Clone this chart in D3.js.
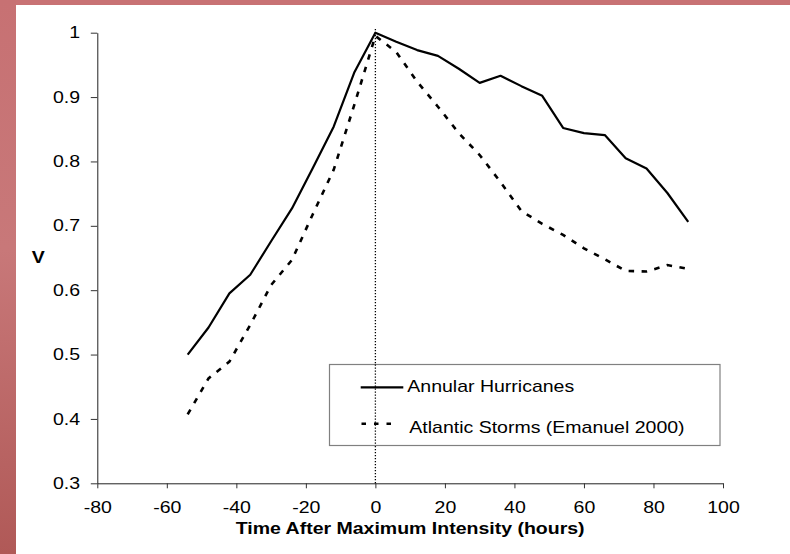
<!DOCTYPE html>
<html>
<head>
<meta charset="utf-8">
<script src="https://cdn.jsdelivr.net/npm/d3@7"></script>
<style>
  html, body { margin: 0; padding: 0; background: #fff; }
  svg { display: block; }
  text { font-family: "Liberation Sans", Arial, sans-serif; fill: #000; }
</style>
</head>
<body>
<svg id="chart" width="790" height="554"></svg>
<script>
// Hours relative to the time of maximum intensity
const hours = [-54, -48, -42, -36, -30, -24, -18, -12, -6, 0, 6, 12, 18, 24, 30, 36, 42, 48, 54, 60, 66, 72, 78, 84, 90];
// Normalised intensity V for annular hurricanes
const annular = [0.500, 0.542, 0.595, 0.624, 0.676, 0.727, 0.790, 0.854, 0.939, 1.000, 0.986, 0.973, 0.964, 0.944, 0.922, 0.933, 0.917, 0.902, 0.852, 0.844, 0.841, 0.805, 0.789, 0.751, 0.706];
// Normalised intensity V for Atlantic storms (Emanuel 2000)
const atlantic = [0.407, 0.463, 0.489, 0.546, 0.608, 0.647, 0.718, 0.787, 0.889, 0.995, 0.970, 0.924, 0.885, 0.844, 0.810, 0.768, 0.723, 0.703, 0.686, 0.665, 0.648, 0.630, 0.629, 0.639, 0.633];

const xTicks = [-80, -60, -40, -20, 0, 20, 40, 60, 80, 100];
const xTickLabels = ["-80", "-60", "-40", "-20", "0", "20", "40", "60", "80", "100"];
const yTicks = [0.3, 0.4, 0.5, 0.6, 0.7, 0.8, 0.9, 1];
const yTickLabels = ["0.3", "0.4", "0.5", "0.6", "0.7", "0.8", "0.9", "1"];

const seriesNames = ["Annular Hurricanes", "Atlantic Storms (Emanuel 2000)"];
const xTitle = "Time After Maximum Intensity (hours)";
const yTitle = "V";

const W = 790, H = 554;
const stretch = 1.22;   // wide lettering of the figure
const svg = d3.select("#chart");

// slide frame: gradient strip on the left, band along the top
const defs = svg.append("defs");
const grad = defs.append("linearGradient").attr("id", "frameGrad")
  .attr("x1", 0).attr("y1", 0).attr("x2", 0).attr("y2", 1);
grad.append("stop").attr("offset", "0%").attr("stop-color", "#c77173");
grad.append("stop").attr("offset", "45%").attr("stop-color", "#c87879");
grad.append("stop").attr("offset", "100%").attr("stop-color", "#b05957");
svg.append("rect").attr("x", 0).attr("y", 0).attr("width", W).attr("height", H).attr("fill", "#fff");
svg.append("rect").attr("x", 0).attr("y", 0).attr("width", W).attr("height", 5).attr("fill", "#c87274");
svg.append("rect").attr("x", 0).attr("y", 0).attr("width", 16).attr("height", H).attr("fill", "url(#frameGrad)");

const x = d3.scaleLinear().domain([-80, 100]).range([97.3, 723]);
const y = d3.scaleLinear().domain([0.3, 1]).range([483.3, 32.7]);

// x axis
const gx = svg.append("g").attr("transform", `translate(0,${y(0.3)})`)
  .call(d3.axisBottom(x).tickValues(xTicks).tickFormat((d, i) => xTickLabels[i]).tickSize(5).tickSizeOuter(0));
gx.select(".domain").attr("stroke", "#222");
gx.selectAll(".tick line").attr("stroke", "#333");
gx.selectAll(".tick text")
  .attr("y", 30).attr("dy", 0)
  .attr("font-size", 16)
  .attr("font-family", "Liberation Sans, Arial, sans-serif")
  .attr("transform", `scale(${stretch},1)`);

// y axis
const gy = svg.append("g").attr("transform", `translate(${x(-80)},0)`)
  .call(d3.axisLeft(y).tickValues(yTicks).tickFormat((d, i) => yTickLabels[i]).tickSize(6.5).tickSizeOuter(0));
gy.select(".domain").attr("stroke", "#222");
gy.selectAll(".tick line").attr("stroke", "#333");
gy.selectAll(".tick text")
  .attr("x", -17.3 / stretch)
  .attr("font-size", 16)
  .attr("font-family", "Liberation Sans, Arial, sans-serif")
  .attr("transform", `scale(${stretch},1)`);

// axis titles
svg.append("text")
  .attr("transform", `translate(${(x(-80) + x(100)) / 2},534) scale(${stretch},1)`)
  .attr("text-anchor", "middle").attr("font-weight", "bold").attr("font-size", 16)
  .text(xTitle);
svg.append("text")
  .attr("transform", `translate(38.3,263.3) scale(${stretch},1)`)
  .attr("text-anchor", "middle").attr("font-weight", "bold").attr("font-size", 16)
  .text(yTitle);

// marker for the time of maximum intensity
svg.append("line")
  .attr("x1", x(0)).attr("x2", x(0)).attr("y1", 29).attr("y2", y(0.3))
  .attr("stroke", "#000").attr("stroke-width", 1.3).attr("stroke-dasharray", "1.2,1.8");

const line = d3.line().x(d => x(d[0])).y(d => y(d[1]));

svg.append("path")
  .datum(hours.map((h, i) => [h, atlantic[i]]))
  .attr("d", line).attr("fill", "none")
  .attr("stroke", "#000").attr("stroke-width", 2.6).attr("stroke-dasharray", "5.5,7.5");

svg.append("path")
  .datum(hours.map((h, i) => [h, annular[i]]))
  .attr("d", line).attr("fill", "none")
  .attr("stroke", "#000").attr("stroke-width", 2.2).attr("stroke-linejoin", "round");

// legend
const lg = svg.append("g");
lg.append("rect").attr("x", 329.5).attr("y", 364.5).attr("width", 390.5).attr("height", 81)
  .attr("fill", "#fff").attr("stroke", "#808080").attr("stroke-width", 1.2);
lg.append("line").attr("x1", 360.7).attr("x2", 403.3).attr("y1", 387.3).attr("y2", 387.3)
  .attr("stroke", "#000").attr("stroke-width", 2.2);
lg.append("line").attr("x1", 361.5).attr("x2", 391).attr("y1", 423.8).attr("y2", 423.8)
  .attr("stroke", "#000").attr("stroke-width", 2.6).attr("stroke-dasharray", "4.5,8");
lg.append("text").attr("transform", `translate(407.3,392) scale(${stretch},1)`)
  .attr("font-size", 16).text(seriesNames[0]);
lg.append("text").attr("transform", `translate(409.3,432.8) scale(${stretch},1)`)
  .attr("font-size", 16).text(seriesNames[1]);

// the dotted marker runs across the legend box
svg.append("line")
  .attr("x1", x(0)).attr("x2", x(0)).attr("y1", 364.5).attr("y2", 445.5)
  .attr("stroke", "#000").attr("stroke-width", 1.3).attr("stroke-dasharray", "1.2,1.8");
</script>
</body>
</html>
